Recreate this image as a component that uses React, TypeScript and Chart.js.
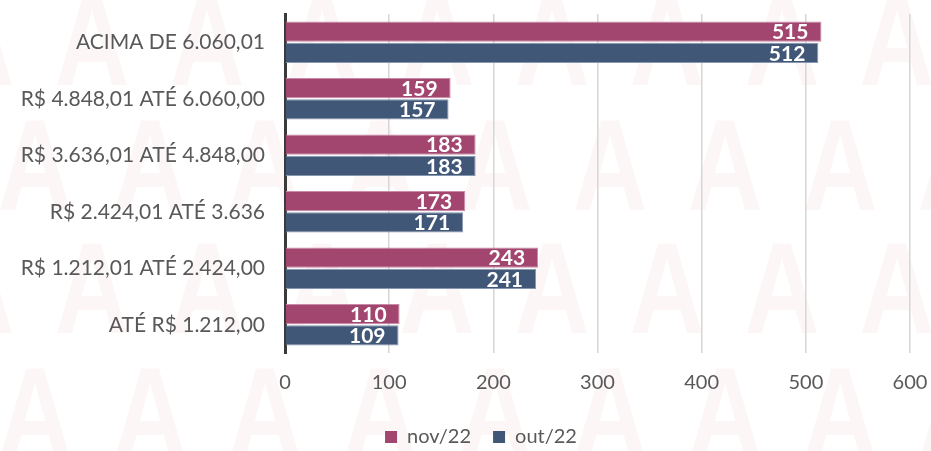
import React, { useEffect, useRef } from 'react';
import { Chart, registerables } from 'chart.js';

Chart.register(...registerables);

const categories = [
  'ACIMA DE 6.060,01',
  'R$ 4.848,01 ATÉ 6.060,00',
  'R$ 3.636,01 ATÉ 4.848,00',
  'R$ 2.424,01 ATÉ 3.636',
  'R$ 1.212,01 ATÉ 2.424,00',
  'ATÉ R$ 1.212,00',
];
const nov22 = [515, 159, 183, 173, 243, 110];
const out22 = [512, 157, 183, 171, 241, 109];
const seriesNames = ['nov/22', 'out/22'];
const xMin = 0;
const xMax = 600;
const xStep = 100;

const FONT = 'Lato';
const MAGENTA = '#A2466F';
const BLUE = '#415777';

const watermarkPlugin = {
  id: 'watermark',
  beforeDraw(chart: any) {
    const ctx = chart.ctx;
    ctx.save();
    ctx.fillStyle = '#ffffff';
    ctx.fillRect(0, 0, chart.width, chart.height);
    ctx.fillStyle = 'rgba(200, 70, 100, 0.05)';
    ctx.font = 'bold 130px "Liberation Sans"';
    ctx.textAlign = 'center';
    ctx.textBaseline = 'alphabetic';
    const rows = [
      { base: 85, off: 92 },
      { base: 210, off: 35 },
      { base: 333, off: 92 },
      { base: 458, off: 35 },
    ];
    rows.forEach((r) => {
      for (let x = r.off - 115; x < chart.width + 115; x += 115) {
        ctx.save();
        ctx.translate(x, r.base);
        ctx.scale(0.8, 1);
        ctx.fillText('A', 0, 0);
        ctx.restore();
      }
    });
    ctx.restore();
  },
};

const legendShiftPlugin = {
  id: 'legendShift',
  afterLayout(chart: any) {
    if (chart.legend) {
      chart.legend.left += 52;
    }
  },
};

const valueLabelPlugin = {
  id: 'valueLabels',
  afterDatasetsDraw(chart: any) {
    const ctx = chart.ctx;
    ctx.save();
    ctx.font = `bold 21px ${FONT}`;
    ctx.fillStyle = '#ffffff';
    ctx.textAlign = 'right';
    ctx.textBaseline = 'middle';
    chart.data.datasets.forEach((ds: any, i: number) => {
      const meta = chart.getDatasetMeta(i);
      meta.data.forEach((bar: any, j: number) => {
        ctx.fillText(String(ds.data[j]), bar.x - 13, bar.y + 1);
      });
    });
    ctx.restore();
  },
};

export default function App() {
  const canvasRef = useRef<HTMLCanvasElement | null>(null);

  useEffect(() => {
    if (!canvasRef.current) return;
    const chart = new Chart(canvasRef.current, {
      type: 'bar',
      data: {
        labels: categories,
        datasets: [
          {
            label: seriesNames[0],
            data: nov22,
            backgroundColor: MAGENTA,
            borderColor: '#C98AA7',
            borderWidth: 1,
            categoryPercentage: 0.75,
            barPercentage: 0.96,
          },
          {
            label: seriesNames[1],
            data: out22,
            backgroundColor: BLUE,
            borderColor: '#8797AF',
            borderWidth: 1,
            categoryPercentage: 0.75,
            barPercentage: 0.96,
          },
        ],
      },
      options: {
        indexAxis: 'y',
        responsive: false,
        animation: false,
        devicePixelRatio: 1,
        layout: { padding: { top: 14, right: 21, left: 0, bottom: -6 } },
        plugins: {
          tooltip: { enabled: false },
          legend: {
            position: 'bottom',
            labels: {
              boxWidth: 12,
              boxHeight: 12,
              padding: 22,
              color: '#595959',
              font: { family: FONT, size: 20 },
              generateLabels(c: any) {
                return c.data.datasets.map((ds: any, i: number) => ({
                  text: ds.label,
                  fillStyle: ds.backgroundColor,
                  strokeStyle: ds.backgroundColor,
                  lineWidth: 0,
                  fontColor: '#595959',
                  datasetIndex: i,
                  hidden: false,
                }));
              },
            },
          },
        },
        scales: {
          y: {
            grid: { display: false, drawTicks: false },
            border: { display: true, color: '#3a3a3a', width: 3 },
            ticks: {
              color: '#595959',
              font: { family: FONT, size: 21 },
              padding: 20,
            },
            afterFit(s: any) {
              s.width = 285;
              s.paddingTop = 0;
              s.paddingBottom = 0;
            },
          },
          x: {
            min: xMin,
            max: xMax,
            grid: { color: '#d6d6d6', lineWidth: 1.5, drawTicks: false },
            border: { display: false },
            ticks: {
              stepSize: xStep,
              color: '#595959',
              font: { family: FONT, size: 20 },
              padding: 18,
            },
            afterFit(s: any) {
              s.height = 52;
              s.paddingLeft = 0;
              s.paddingRight = 0;
            },
          },
        },
      },
      plugins: [watermarkPlugin, legendShiftPlugin, valueLabelPlugin],
    } as any);
    return () => chart.destroy();
  }, []);

  return (
    <div style={{ position: 'fixed', left: 0, top: 0, width: 931, height: 451, background: '#fff' }}>
      <canvas ref={canvasRef} width={931} height={451} style={{ display: 'block' }} />
    </div>
  );
}
